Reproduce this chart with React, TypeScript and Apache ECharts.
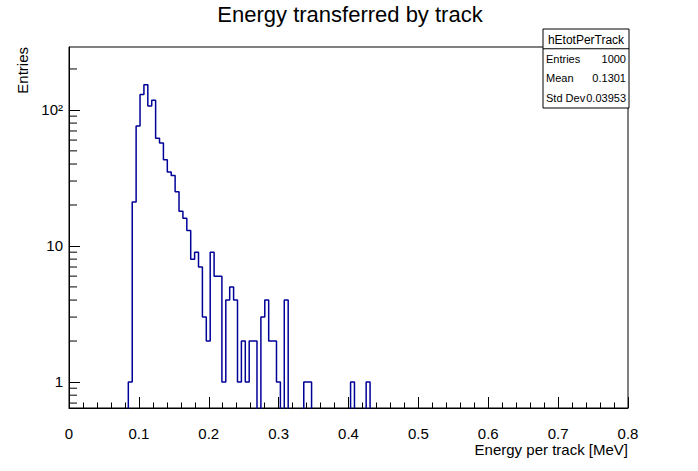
import React, { useEffect, useRef } from "react";
import * as echarts from "echarts";

// Histogram binning (low edge of first filled bin, bin width in MeV)
const binLow = 0.0849;
const binWidth = 0.00558;
const binCounts = [
  1, 21, 76, 130, 153, 107, 118, 62, 57, 43,
  35, 33, 25, 18, 16, 13, 8, 9, 7, 3,
  2, 9, 6, 6, 1, 4, 5, 4, 1, 2,
  1, 2, 2, 0, 3, 4, 2, 2, 1, 0,
  4, 0, 0, 0, 0, 1, 1, 0, 0, 0,
  0, 0, 0, 0, 0, 0, 0, 1, 0, 0,
  0, 1,
];
const xTickLabels = ["0", "0.1", "0.2", "0.3", "0.4", "0.5", "0.6", "0.7", "0.8"];
const yTickValues = [1, 10, 100];
const yTickLabels = ["1", "10", "10²"];
const yMinorTicks = [0.7, 0.8, 0.9, 2, 3, 4, 5, 6, 7, 8, 9, 20, 30, 40, 50, 60, 70, 80, 90, 200];
const statsName = "hEtotPerTrack";
const statsLabels = ["Entries", "Mean", "Std Dev"];
const statsValues = ["1000", "0.1301", "0.03953"];
const chartTitle = "Energy transferred by track";
const xTitle = "Energy per track [MeV]";
const yTitle = "Entries";

const FONT = "'Liberation Sans', Arial, Helvetica, sans-serif";
const LINE = "#000099";

export default function App() {
  const ref = useRef<HTMLDivElement>(null);
  useEffect(() => {
    const el = ref.current!;
    const chart = echarts.init(el, null, { renderer: "svg" });
    const floor = 0.01;
    const pts: number[][] = [[binLow, floor]];
    binCounts.forEach((c, i) => pts.push([binLow + i * binWidth, c > 0 ? c : floor]));
    pts.push([binLow + binCounts.length * binWidth, floor]);

    const boxX = 543, boxY = 29, boxW = 86, boxH = 79;
    const rowH = boxH / 4;
    const statsEls: any[] = [
      { type: "rect", shape: { x: boxX, y: boxY, width: boxW, height: boxH }, style: { fill: "#fff", stroke: "#000", lineWidth: 1 } },
      { type: "line", shape: { x1: boxX, y1: boxY + rowH, x2: boxX + boxW, y2: boxY + rowH }, style: { stroke: "#000", lineWidth: 1 } },
      { type: "text", x: boxX + boxW / 2, y: boxY + rowH / 2 + 1, style: { text: statsName, font: `12px ${FONT}`, fill: "#000", align: "center", verticalAlign: "middle" } },
    ];
    statsLabels.forEach((l, i) => {
      const cy = boxY + rowH * (i + 1.5);
      statsEls.push({ type: "text", x: boxX + 3, y: cy, style: { text: l, font: `11px ${FONT}`, fill: "#000", align: "left", verticalAlign: "middle" } });
      statsEls.push({ type: "text", x: boxX + boxW - 3, y: cy, style: { text: statsValues[i], font: `11px ${FONT}`, fill: "#000", align: "right", verticalAlign: "middle" } });
    });

    chart.setOption({
      animation: false,
      grid: { left: 69, right: 70, top: 47, bottom: 63, show: true, borderColor: "#000", borderWidth: 1, backgroundColor: "transparent" },
      xAxis: {
        type: "value",
        min: 0,
        max: 0.8,
        interval: 0.1,
        axisLine: { show: true, lineStyle: { color: "#000", width: 1 } },
        axisTick: { show: true, inside: true, length: 11, lineStyle: { color: "#000" } },
        minorTick: { show: true, splitNumber: 5, length: 5.5, lineStyle: { color: "#000" } },
        splitLine: { show: false },
        axisLabel: {
          margin: 18,
          color: "#000",
          fontFamily: FONT,
          fontSize: 15,
          formatter: (v: number) => xTickLabels[Math.round(v * 10)] ?? "",
        },
      },
      yAxis: {
        type: "log",
        logBase: 10,
        min: 0.644,
        max: 290,
        axisLine: { show: true, lineStyle: { color: "#000", width: 1 } },
        axisTick: { show: true, inside: true, length: 11, lineStyle: { color: "#000" } },
        splitLine: { show: false },
        axisLabel: {
          margin: 6,
          color: "#000",
          fontFamily: FONT,
          fontSize: 15,
          showMinLabel: false,
          showMaxLabel: false,
          formatter: (v: number) => {
            const i = yTickValues.findIndex((t) => Math.abs(v - t) / t < 1e-6);
            return i >= 0 ? yTickLabels[i] : "";
          },
        },
      },
      series: [
        {
          type: "line",
          step: "end",
          data: pts,
          showSymbol: false,
          symbol: "none",
          clip: true,
          lineStyle: { color: LINE, width: 1.5 },
        },
        {
          type: "custom",
          data: yMinorTicks.map((v) => [0, v]),
          renderItem: (params: any, api: any) => {
            const p = api.coord([api.value(0), api.value(1)]);
            return {
              type: "line",
              shape: { x1: p[0], y1: p[1], x2: p[0] + 8, y2: p[1] },
              style: { stroke: "#000", lineWidth: 1 },
            };
          },
        },
      ],
      graphic: [
        { type: "text", x: 350, y: 14, style: { text: chartTitle, font: `22px ${FONT}`, fill: "#000", align: "center", verticalAlign: "middle" } },
        { type: "text", x: 628, y: 449, style: { text: xTitle, font: `15px ${FONT}`, fill: "#000", align: "right", verticalAlign: "middle" } },
        { type: "text", x: 22, y: 47, rotation: Math.PI / 2, style: { text: yTitle, font: `15px ${FONT}`, fill: "#000", align: "right", verticalAlign: "middle" } },
        { type: "group", children: statsEls },
      ],
    });
    return () => chart.dispose();
  }, []);
  return <div ref={ref} style={{ position: "absolute", left: 0, top: 0, width: 698, height: 471, background: "#fff" }} />;
}
